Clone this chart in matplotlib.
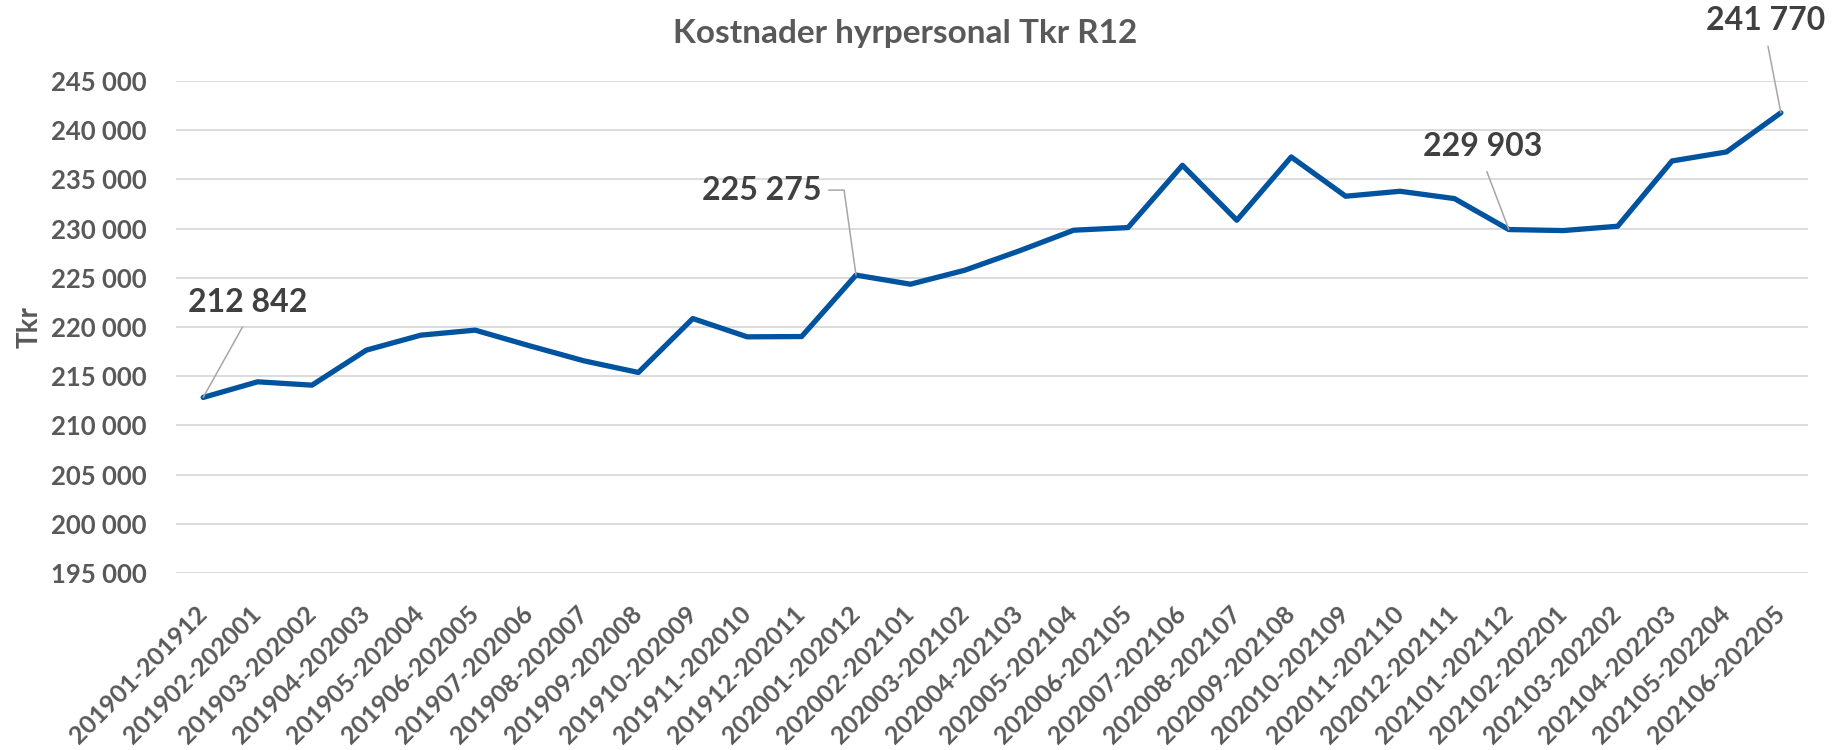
import matplotlib
matplotlib.use("Agg")
import matplotlib.pyplot as plt
from matplotlib.ticker import FuncFormatter, MultipleLocator

plt.rcParams["font.family"] = ["Lato", "DejaVu Sans"]
plt.rcParams["font.weight"] = "bold"

periods = [
    "201901-201912", "201902-202001", "201903-202002", "201904-202003",
    "201905-202004", "201906-202005", "201907-202006", "201908-202007",
    "201909-202008", "201910-202009", "201911-202010", "201912-202011",
    "202001-202012", "202002-202101", "202003-202102", "202004-202103",
    "202005-202104", "202006-202105", "202007-202106", "202008-202107",
    "202009-202108", "202010-202109", "202011-202110", "202012-202111",
    "202101-202112", "202102-202201", "202103-202202", "202104-202203",
    "202105-202204", "202106-202205",
]
costs = [
    212842, 214430, 214090, 217650, 219170, 219680, 218090, 216560,
    215380, 220860, 219000, 219030, 225275, 224350, 225770, 227735,
    229834, 230105, 236435, 230850, 237280, 233290, 233795, 233050,
    229903, 229800, 230240, 236875, 237790, 241770,
]
labelled = [0, 12, 24, 29]

LINE = "#00539F"
GREY = "#595959"

fig = plt.figure(figsize=(18.33, 7.5), dpi=100)
ax = fig.add_axes([0.096, 0.236, 0.8904, 0.656])

x = list(range(len(periods)))
ax.plot(x, costs, color=LINE, lw=3.8, solid_joinstyle="round",
        solid_capstyle="round", zorder=3)

ax.set_xlim(-0.5, len(periods) - 0.5)
ax.set_ylim(195000, 245000)
ax.yaxis.set_major_locator(MultipleLocator(5000))
ax.yaxis.set_major_formatter(FuncFormatter(lambda v, p: f"{v:,.0f}".replace(",", " ")))
ax.grid(axis="y", color="#d9d9d9", lw=1.3)
ax.set_axisbelow(True)
for s in ax.spines.values():
    s.set_visible(False)

ax.set_xticks(x)
ax.set_xticklabels(periods, rotation=45, ha="right", va="center",
                   rotation_mode="anchor")
ax.tick_params(axis="x", length=0, pad=27, labelsize=18, labelcolor=GREY)
ax.tick_params(axis="y", length=0, pad=21, labelsize=18.5, labelcolor=GREY)

ax.set_ylabel("Tkr", fontsize=20, color=GREY, fontweight="bold")
ax.yaxis.set_label_coords(-0.082, 0.5)

fig.text(0.494, 0.955, "Kostnader hyrpersonal Tkr R12", ha="center", va="center",
         fontsize=24, color=GREY, fontweight="bold")

# data labels with leader lines (offsets in pixels)
offsets = {0: (45, 95), 12: (-94, 85), 24: (-26, 83), 29: (-15, 92)}
for i in labelled:
    dx, dy = offsets[i]
    if i == 12:
        props = dict(arrowstyle="-", color="#a6a6a6", lw=1.1, relpos=(1, 0.5),
                     shrinkA=3, shrinkB=0,
                     connectionstyle="angle,angleA=0,angleB=98,rad=0")
    else:
        props = dict(arrowstyle="-", color="#a6a6a6", lw=1.1, relpos=(0.5, 0),
                     shrinkA=6, shrinkB=0)
    ax.annotate(f"{costs[i]:,}".replace(",", " "), xy=(i, costs[i]),
                xytext=(dx, dy), textcoords="offset pixels",
                ha="center", va="center", fontsize=23, fontweight="bold",
                color="#404040", arrowprops=props, zorder=4,
                annotation_clip=False)

fig.savefig("out.png", dpi=100)
